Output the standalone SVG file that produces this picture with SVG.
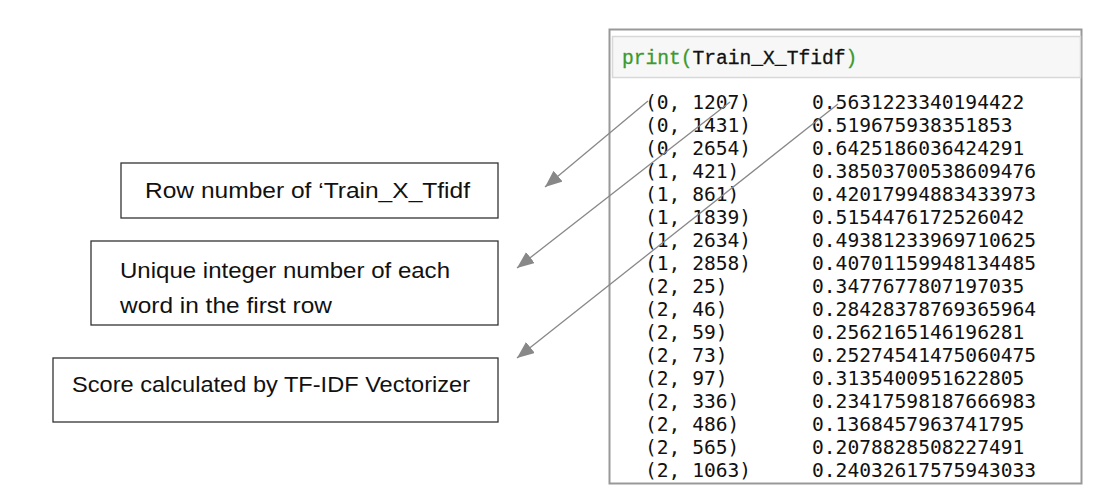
<svg xmlns="http://www.w3.org/2000/svg" width="1104" height="494" viewBox="0 0 1104 494">
<defs>
<marker id="ah" viewBox="0 0 10 10" refX="10" refY="5" markerWidth="17" markerHeight="14" markerUnits="userSpaceOnUse" orient="auto" preserveAspectRatio="none">
<path d="M0,0 L10,5 L0,10 z" fill="#888"/>
</marker>
<style>
.box{fill:#fff;stroke:#333;stroke-width:1.3}
.lbl{font-family:"Liberation Sans","Open Sans",sans-serif;font-size:22.5px;fill:#111}
.mono{font-family:"DejaVu Sans Mono","Liberation Mono",monospace;font-size:19.6px;fill:#111}
.code{font-family:"Liberation Mono","DejaVu Sans Mono",monospace;font-size:19.6px;fill:#111;stroke:#111;stroke-width:0.3}
.kw{fill:#3c9a2e;stroke:#3c9a2e}
.conn{stroke:#888;stroke-width:1.3;fill:none}
</style>
</defs>
<rect width="1104" height="494" fill="#fff"/>
<g id="screenshot">
<rect x="609.5" y="29.5" width="472" height="454" fill="#fff" stroke="#999" stroke-width="2"/>
<rect x="612.5" y="36.5" width="468" height="41" fill="#f7f7f7" stroke="#d8d8d8" stroke-width="1.5"/>
<text class="code" x="622" y="64"><tspan class="kw">print(</tspan>Train_X_Tfidf<tspan class="kw">)</tspan></text>
<g class="mono">
<text x="645" y="109">(0, 1207)</text><text x="812" y="109">0.5631223340194422</text>
<text x="645" y="132">(0, 1431)</text><text x="812" y="132">0.519675938351853</text>
<text x="645" y="155">(0, 2654)</text><text x="812" y="155">0.6425186036424291</text>
<text x="645" y="178">(1, 421)</text><text x="812" y="178">0.38503700538609476</text>
<text x="645" y="201">(1, 861)</text><text x="812" y="201">0.42017994883433973</text>
<text x="645" y="224">(1, 1839)</text><text x="812" y="224">0.5154476172526042</text>
<text x="645" y="247">(1, 2634)</text><text x="812" y="247">0.49381233969710625</text>
<text x="645" y="270">(1, 2858)</text><text x="812" y="270">0.40701159948134485</text>
<text x="645" y="293">(2, 25)</text><text x="812" y="293">0.3477677807197035</text>
<text x="645" y="316">(2, 46)</text><text x="812" y="316">0.28428378769365964</text>
<text x="645" y="339">(2, 59)</text><text x="812" y="339">0.2562165146196281</text>
<text x="645" y="362">(2, 73)</text><text x="812" y="362">0.25274541475060475</text>
<text x="645" y="385">(2, 97)</text><text x="812" y="385">0.3135400951622805</text>
<text x="645" y="408">(2, 336)</text><text x="812" y="408">0.23417598187666983</text>
<text x="645" y="431">(2, 486)</text><text x="812" y="431">0.1368457963741795</text>
<text x="645" y="454">(2, 565)</text><text x="812" y="454">0.2078828508227491</text>
<text x="645" y="477">(2, 1063)</text><text x="812" y="477">0.24032617575943033</text>
</g>
</g>
<g id="node-row">
<rect class="box" x="121" y="163" width="377" height="55"/>
<text class="lbl" x="145" y="198" textLength="325" lengthAdjust="spacingAndGlyphs">Row number of ‘Train_X_Tfidf</text>
</g>
<g id="node-unique">
<rect class="box" x="91" y="241" width="407" height="84"/>
<text class="lbl" x="120" y="278" textLength="330" lengthAdjust="spacingAndGlyphs">Unique integer number of each</text>
<text class="lbl" x="120" y="313" textLength="212" lengthAdjust="spacingAndGlyphs">word in the first row</text>
</g>
<g id="node-score">
<rect class="box" x="53" y="358" width="445" height="64"/>
<text class="lbl" x="72" y="392" textLength="398" lengthAdjust="spacingAndGlyphs">Score calculated by TF-IDF Vectorizer</text>
</g>
<g id="connectors">
<line class="conn" x1="648" y1="101" x2="545" y2="187" marker-end="url(#ah)"/>
<line class="conn" x1="730" y1="102" x2="517" y2="268" marker-end="url(#ah)"/>
<line class="conn" x1="838" y1="104" x2="517" y2="358" marker-end="url(#ah)"/>
</g>
</svg>
